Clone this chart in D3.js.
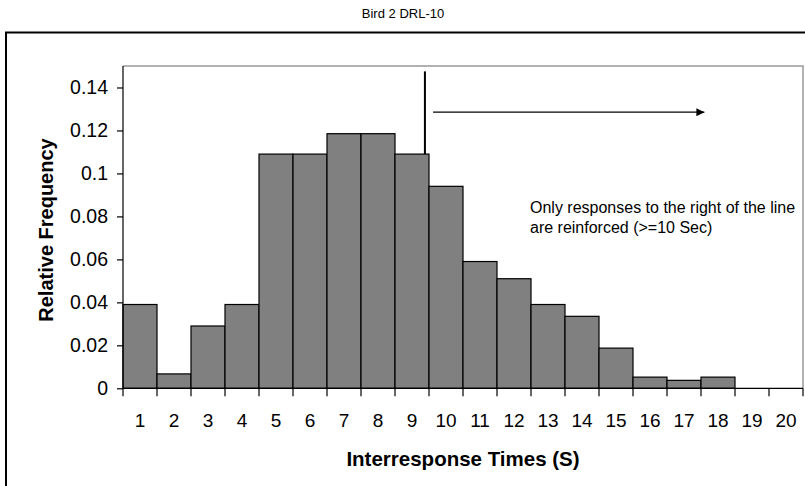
<!DOCTYPE html>
<html><head><meta charset="utf-8">
<script src="https://cdn.jsdelivr.net/npm/d3@7"></script>
<style>body{margin:0;background:#fff}svg{display:block;font-family:"Liberation Sans",Arial,sans-serif}</style>
</head><body><svg id="c" width="805" height="486"></svg>
<script>
const categories = ["1","2","3","4","5","6","7","8","9","10","11","12","13","14","15","16","17","18","19","20"];
const frequencies = [0.039,0.0067,0.029,0.039,0.109,0.109,0.1185,0.1185,0.109,0.094,0.059,0.051,0.039,0.0335,0.0187,0.0052,0.0037,0.0052,0,0];
const yTicks = [0,0.02,0.04,0.06,0.08,0.1,0.12,0.14];
const title = "Bird 2 DRL-10";
const xLabel = "Interresponse Times (S)";
const yLabel = "Relative Frequency";
const noteLines = ["Only responses to the right of the line","are reinforced (>=10 Sec)"];

const FONT = "Liberation Sans, Arial, sans-serif";
const svg = d3.select("#c");
const L=123, R=803, T=66, B=388.3;
const x = d3.scaleBand().domain(categories).range([L,R]).padding(0);
const y = d3.scaleLinear().domain([0,0.15]).range([B,T]);
const xc = d3.scaleLinear().domain([0.5,20.5]).range([L,R]);

// outer chart-area border
svg.append("rect").attr("x",6).attr("y",32.5).attr("width",820).attr("height",480)
  .attr("fill","none").attr("stroke","#000").attr("stroke-width",2);

svg.append("text").attr("x",403).attr("y",18).attr("text-anchor","middle")
  .attr("font-size",13).text(title);

// plot area border (top/right grey)
svg.append("path").attr("d",`M${L},${T}H${R}V${B}`).attr("fill","none").attr("stroke","#999").attr("stroke-width",1.5);

// bars
svg.append("g").selectAll("rect").data(frequencies).join("rect")
  .attr("x",(d,i)=>x(categories[i])).attr("width",x.bandwidth())
  .attr("y",d=>y(d)).attr("height",d=>B-y(d))
  .attr("fill","#808080").attr("stroke","#000").attr("stroke-width",1.2);

// y axis
const ya = svg.append("g").attr("transform",`translate(${L},0)`)
  .call(d3.axisLeft(y).tickValues(yTicks).tickSize(6).tickPadding(9).tickFormat(d=>d===0?"0":String(+d.toFixed(2))));
ya.selectAll("text").attr("font-size",19.5).attr("fill","#000").attr("font-family",FONT);
ya.select(".domain").attr("d",`M-0,${T}V${B}`).attr("stroke","#000").attr("stroke-width",1.2);
ya.selectAll(".tick line").attr("stroke","#000").attr("stroke-width",1.2);

// x axis
const xa = svg.append("g").attr("transform",`translate(0,${B})`)
  .call(d3.axisBottom(x).tickSize(0));
xa.selectAll("text").attr("font-size",19).attr("fill","#000").attr("font-family",FONT)
  .attr("y",39).attr("dy",0);
xa.select(".domain").attr("d",`M${L},0H${R}`).attr("stroke","#000").attr("stroke-width",1.2);
xa.append("g").selectAll("line").data(d3.range(0,categories.length+1)).join("line")
  .attr("x1",i=>L+i*x.step()).attr("x2",i=>L+i*x.step()).attr("y1",0).attr("y2",8)
  .attr("stroke","#000").attr("stroke-width",1.2);

// axis titles
svg.append("text").attr("x",463).attr("y",466).attr("text-anchor","middle")
  .attr("font-size",20.5).attr("font-weight","bold").text(xLabel);
svg.append("text").attr("transform","translate(53,230) rotate(-90)").attr("text-anchor","middle")
  .attr("font-size",20).attr("font-weight","bold").text(yLabel);

// annotation: threshold line and arrow
svg.append("line").attr("x1",xc(9.38)).attr("x2",xc(9.38)).attr("y1",y(0.1475)).attr("y2",y(frequencies[8]))
  .attr("stroke","#000").attr("stroke-width",2);
svg.append("defs").append("marker").attr("id","ah").attr("viewBox","0 0 10 10").attr("refX",10).attr("refY",5)
  .attr("markerWidth",9).attr("markerHeight",8).attr("markerUnits","userSpaceOnUse").attr("orient","auto")
  .append("path").attr("d","M0,0L10,5L0,10Z").attr("fill","#000");
svg.append("line").attr("x1",xc(9.62)).attr("x2",xc(17.6)).attr("y1",y(0.1285)).attr("y2",y(0.1285))
  .attr("stroke","#000").attr("stroke-width",1.3).attr("marker-end","url(#ah)");

svg.append("g").selectAll("text").data(noteLines).join("text")
  .attr("x",530).attr("y",(d,i)=>213+i*19.6).attr("font-size",16).text(d=>d);
</script></body></html>
